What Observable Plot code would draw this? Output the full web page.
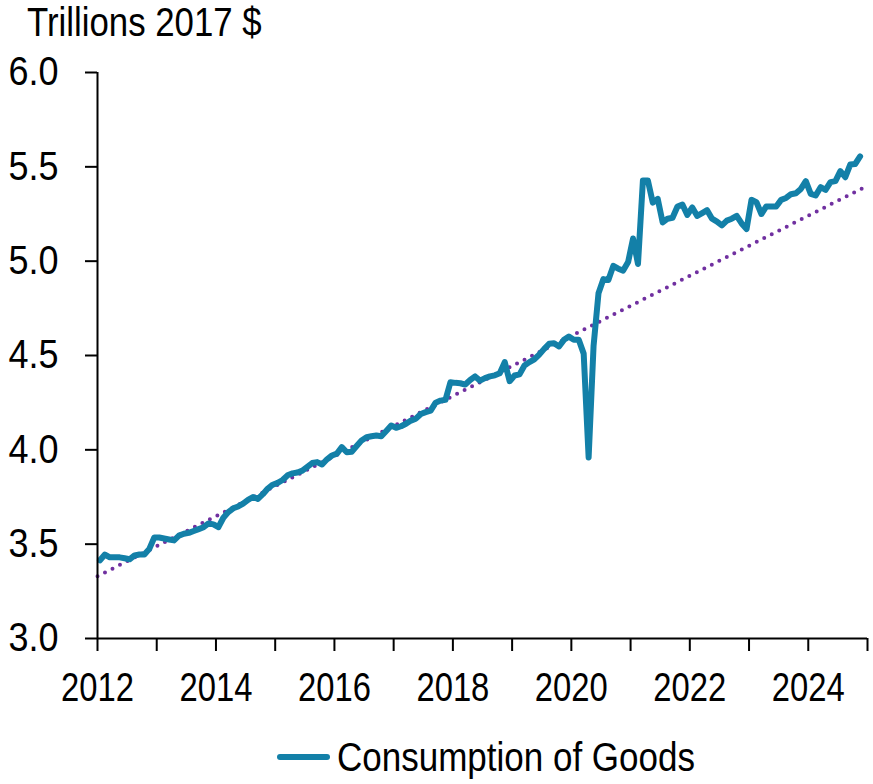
<!DOCTYPE html>
<html>
<head>
<meta charset="utf-8">
<script src="https://cdn.jsdelivr.net/npm/d3@7"></script>
<script src="https://cdn.jsdelivr.net/npm/@observablehq/plot@0.6"></script>
<style>
  html, body { margin: 0; padding: 0; background: #fff; }
  body { width: 873px; height: 784px; overflow: hidden; font-family: "Liberation Sans", Arial, sans-serif; color: #000; }
  #title { font-size: 40px; line-height: 44px; height: 44px; padding-left: 27px; white-space: nowrap; }
  #title span { display: inline-block; transform: scaleX(0.87); transform-origin: 0 50%; }
  #legend { display: flex; align-items: center; padding-left: 277px; margin-top: 23px; font-size: 40px; line-height: 44px; height: 44px; white-space: nowrap; }
  #legend .sw { width: 53px; height: 6px; border-radius: 3px; background: #1380a8; margin-right: 7px; flex: none; }
  #legend .tx { display: inline-block; transform: scaleX(0.875); transform-origin: 0 50%; }
  svg { display: block; }
</style>
</head>
<body>
<div id="title"><span>Trillions 2017 $</span></div>
<div id="chart"></div>
<div id="legend"><span class="sw"></span><span class="tx">Consumption of Goods</span></div>
<script>
// Monthly series, Jan 2012 .. Nov 2024 (trillions of 2017 $)
const startYear = 2012;
const goods = [
  3.415, 3.445, 3.43, 3.43, 3.43, 3.425, 3.42, 3.44, 3.445, 3.445, 3.475, 3.535,
  3.535, 3.53, 3.525, 3.52, 3.545, 3.555, 3.56, 3.57, 3.58, 3.59, 3.61, 3.605,
  3.59, 3.64, 3.67, 3.69, 3.70, 3.715, 3.735, 3.75, 3.74, 3.765, 3.795, 3.815,
  3.825, 3.84, 3.865, 3.875, 3.88, 3.89, 3.91, 3.93, 3.935, 3.922, 3.95, 3.97,
  3.98, 4.014, 3.987, 3.99, 4.02, 4.05, 4.067, 4.072, 4.076, 4.072, 4.10, 4.129,
  4.117, 4.125, 4.138, 4.155, 4.165, 4.19, 4.20, 4.208, 4.25, 4.261, 4.265, 4.358,
  4.355, 4.353, 4.346, 4.37, 4.389, 4.367, 4.38, 4.389, 4.395, 4.406, 4.465, 4.364,
  4.394, 4.40, 4.447, 4.465, 4.48, 4.505, 4.535, 4.562, 4.565, 4.548, 4.583, 4.60,
  4.583, 4.583, 4.51, 3.96, 4.55, 4.83, 4.905, 4.90, 4.975, 4.96, 4.95, 4.995,
  5.12, 4.985, 5.428, 5.428, 5.31, 5.33, 5.205, 5.225, 5.23, 5.29, 5.30, 5.245,
  5.285, 5.24, 5.255, 5.27, 5.225, 5.21, 5.19, 5.215, 5.225, 5.24, 5.20, 5.17,
  5.325, 5.313, 5.25, 5.29, 5.29, 5.29, 5.325, 5.335, 5.355, 5.36, 5.383, 5.424,
  5.357, 5.348, 5.392, 5.378, 5.419, 5.424, 5.477, 5.445, 5.512, 5.515, 5.555
];
// Linear trend endpoints
const trendYears = [2012, 2025];
const trendValues = [3.33, 5.40];
// Axis ticks
const yTicks = [3.0, 3.5, 4.0, 4.5, 5.0, 5.5, 6.0];
const xTicks = [2012, 2013, 2014, 2015, 2016, 2017, 2018, 2019, 2020, 2021, 2022, 2023, 2024, 2025];
const xLabelYears = [2012, 2014, 2016, 2018, 2020, 2022, 2024];

const series = goods.map((v, i) => ({ t: startYear + (i + 0.5) / 12, v }));
const trend = trendYears.map((t, i) => ({ t, v: trendValues[i] }));

const chart = Plot.plot({
  width: 873,
  height: 668,
  marginLeft: 97,
  marginRight: 6,
  marginTop: 28,
  marginBottom: 74,
  style: { fontFamily: '"Liberation Sans", Arial, sans-serif', fontSize: "40px", color: "#000", background: "#fff" },
  x: { domain: [2012, 2025] },
  y: { domain: [3, 6] },
  marks: [
    Plot.axisY({ ticks: yTicks, tickFormat: d3.format(".1f"), tickSize: 12, tickPadding: 27, strokeWidth: 2, label: null }),
    Plot.axisX({ ticks: xTicks, tickFormat: d => xLabelYears.includes(d) ? String(d) : "", tickSize: 13, tickPadding: 21, strokeWidth: 2, label: null }),
    Plot.line(trend, { x: "t", y: "v", stroke: "#7030a0", strokeWidth: 4, strokeDasharray: "0,8.4", strokeLinecap: "round" }),
    Plot.line(series, { x: "t", y: "v", stroke: "#1380a8", strokeWidth: 6, strokeLinejoin: "round", strokeLinecap: "round" }),
    Plot.ruleX([2012], { y1: 3, y2: 6, stroke: "#000", strokeWidth: 2 }),
    Plot.ruleY([3], { x1: 2012, x2: 2025, stroke: "#000", strokeWidth: 2 })
  ]
});

// Condense tick label glyphs horizontally (narrow face is not installed)
function condense(selector, s) {
  chart.querySelectorAll(selector).forEach(t => {
    const tr = t.getAttribute("transform");
    if (tr) {
      t.setAttribute("transform", tr + ` scale(${s},1)`);
    } else {
      const x = +(t.getAttribute("x") || 0), y = +(t.getAttribute("y") || 0);
      t.removeAttribute("x"); t.removeAttribute("y");
      t.setAttribute("transform", `translate(${x},${y}) scale(${s},1)`);
    }
  });
}
condense('g[aria-label="y-axis tick label"] text', 0.9);
condense('g[aria-label="x-axis tick label"] text', 0.82);

document.getElementById("chart").appendChild(chart);
</script>
</body>
</html>
